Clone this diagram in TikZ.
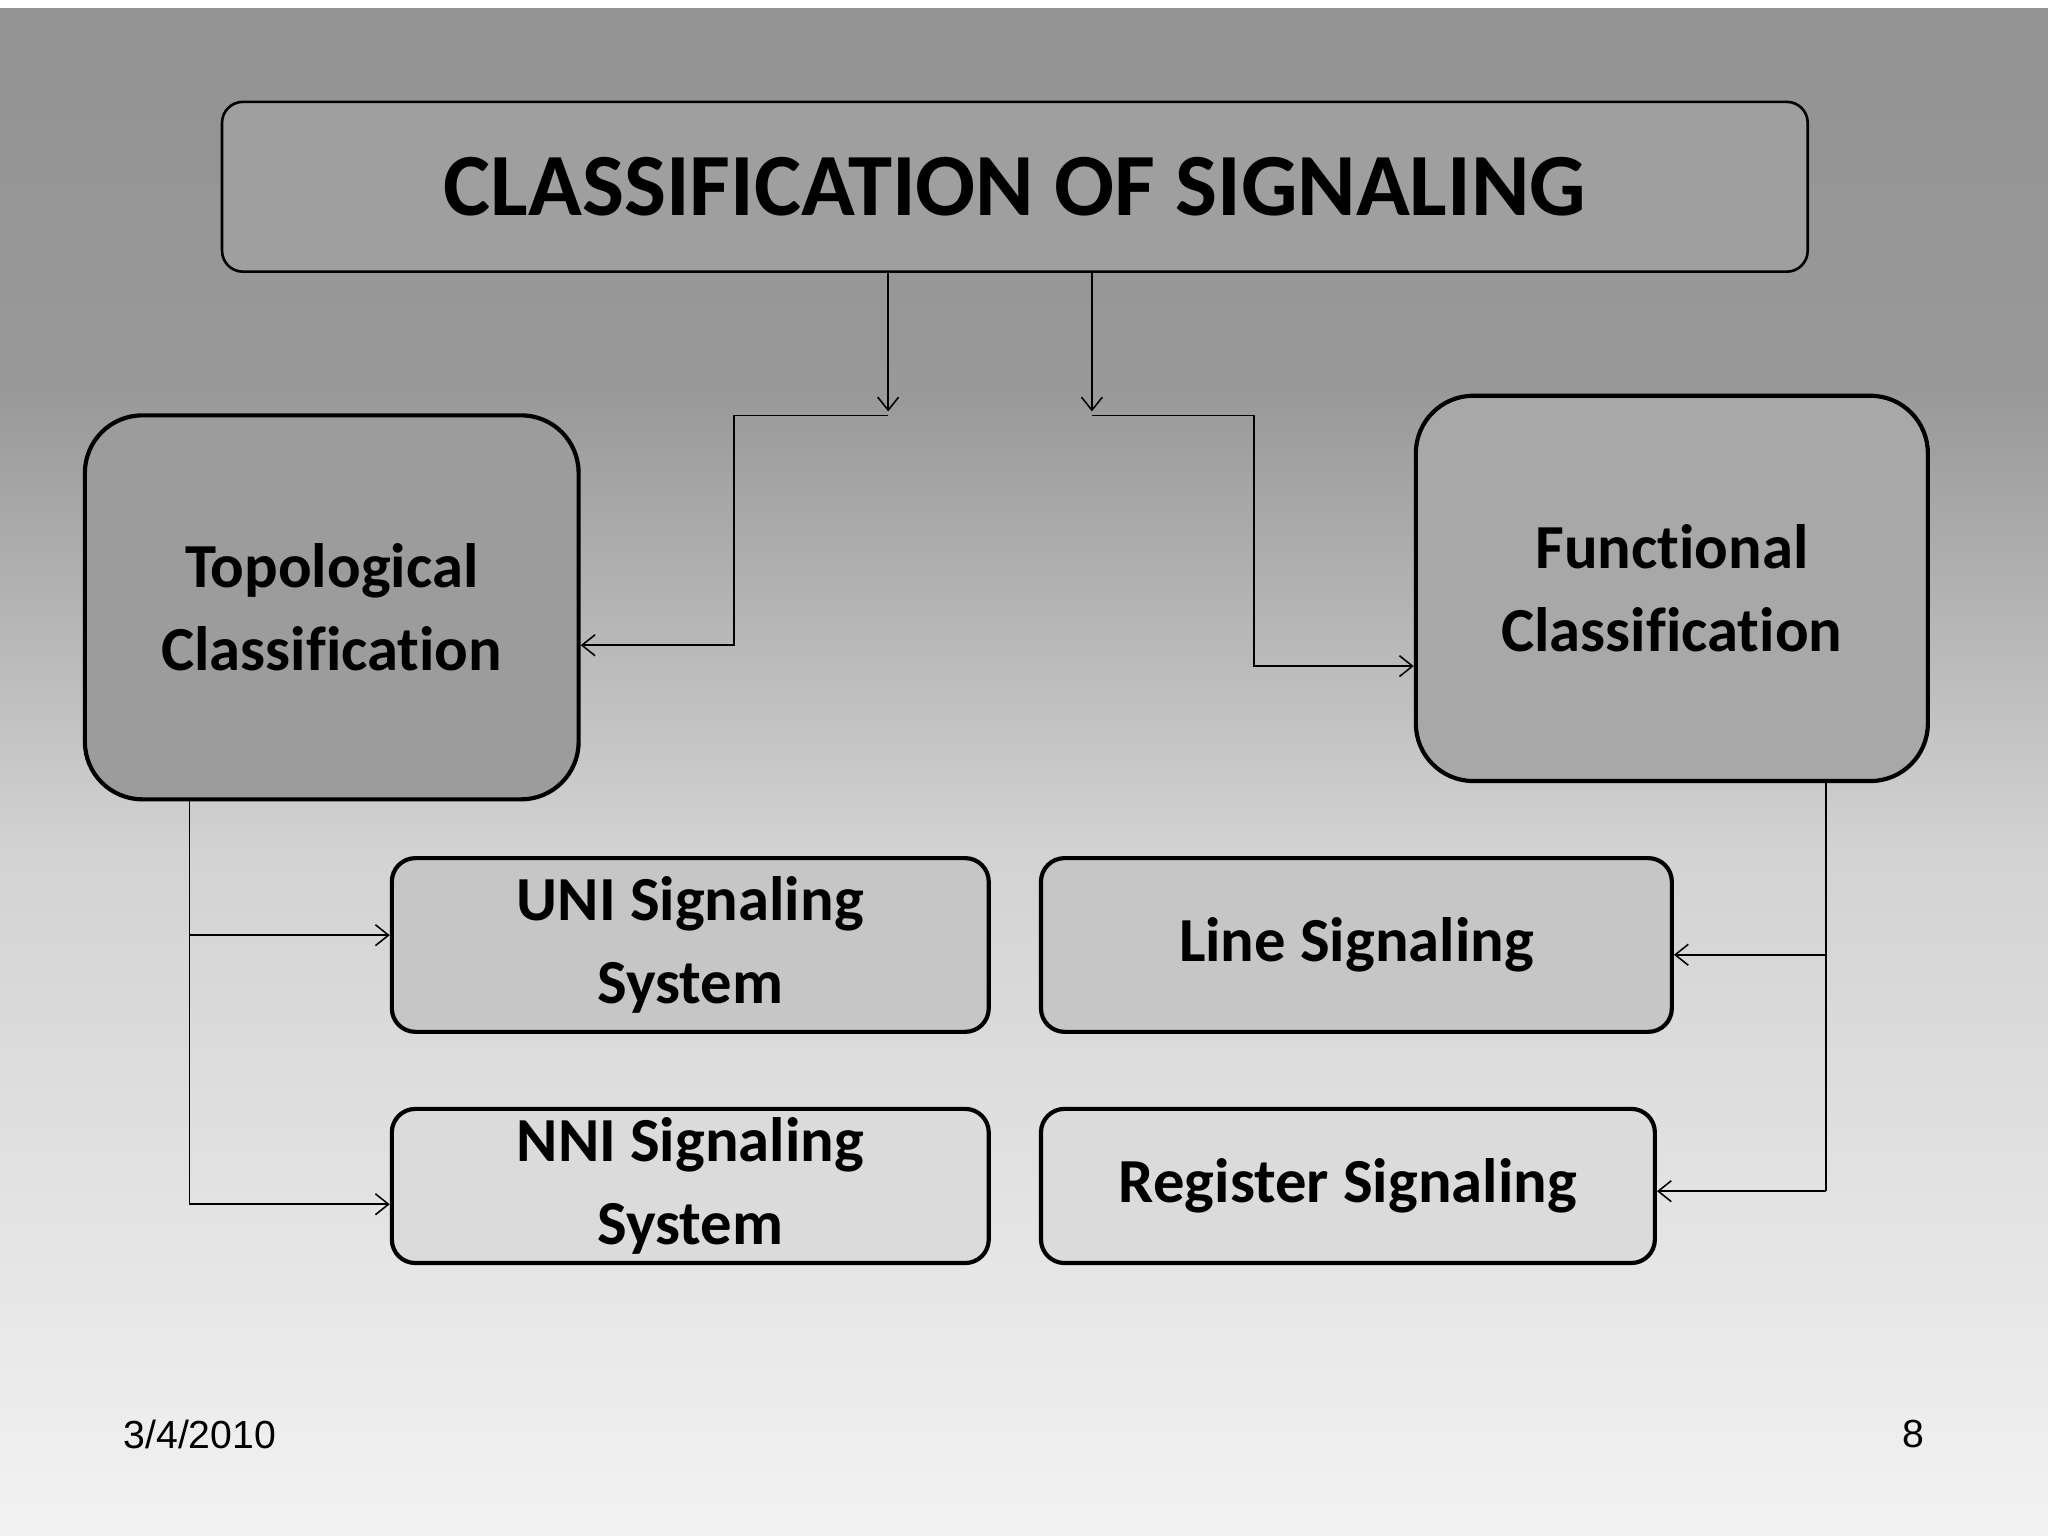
\documentclass[tikz,border=0pt]{standalone}
\usepackage{fontspec}
\setmainfont[Ligatures=NoCommon]{Carlito}
\newfontfamily\arialf{Liberation Sans}
\usetikzlibrary{arrows.meta}
\begin{document}
\begin{tikzpicture}[x=0.5pt,y=-0.5pt,
  box/.style={draw=black,line width=1.6pt,fill=gray!55,rounded corners=9pt,font=\bfseries\fontsize{24}{30}\selectfont,align=center,inner sep=0},
  bigbox/.style={box,rounded corners=22pt},
  conn/.style={draw=black,line width=0.6pt},
  arr/.style={conn,->,>={Straight Barb[length=5pt,width=8pt]}}]
\shade[top color=gray!90!white,middle color=gray!80!white,bottom color=gray!8] (0,0) rectangle (1568,1176);
\shade[top color=gray!85!white,bottom color=gray!80!white] (0,6) rectangle (1568,300);
\shade[top color=gray!80!white,bottom color=gray!35!white] (0,300) rectangle (1568,650);
\shade[top color=gray!35!white,bottom color=gray!10] (0,650) rectangle (1568,1176);
\fill[white] (0,0) rectangle (1568,6);
\node[box,fill=gray!75,line width=1pt,rounded corners=8pt,minimum width=607pt,minimum height=65pt,font=\bfseries\fontsize{34}{40}\selectfont] (t) at (777,143) {CLASSIFICATION OF SIGNALING};
\node[bigbox,fill=gray!78,minimum width=189pt,minimum height=147pt] (topo) at (254,465) {Topological\\[2pt]Classification};
\node[bigbox,fill=gray!68,minimum width=196pt,minimum height=147.5pt] (func) at (1280,450.5) {Functional\\[2pt]Classification};
\node[box,fill=gray!45,minimum width=228.5pt,minimum height=66.5pt] (uni) at (528.5,723.5) {UNI Signaling\\[2pt]System};
\node[box,fill=gray!28,minimum width=228.5pt,minimum height=59pt] (nni) at (528.5,908) {NNI Signaling\\[2pt]System};
\node[box,fill=gray!45,minimum width=241.5pt,minimum height=66.5pt] (line) at (1038.5,723.5) {Line Signaling};
\node[box,fill=gray!28,minimum width=235pt,minimum height=59pt] (reg) at (1032,908) {Register Signaling};
\coordinate (a1) at (680,318); \coordinate (a2) at (836,318);
\draw[arr] (t.south -| a1) -- (680,315);
\draw[arr] (t.south -| a2) -- (836,315);
\draw[arr] (a1) -- (562,318) -- (562,494) -- (topo.east |- 0,494);
\draw[arr] (a2) -- (960,318) -- (960,510) -- (func.west |- 0,510);
\coordinate (l1) at (145,922);
\draw[conn] (topo.south -| l1) -- (l1);
\draw[arr] (145,716) -- (uni.west |- 0,716);
\draw[arr] (l1) -- (nni.west |- l1);
\coordinate (r1) at (1398,912);
\draw[conn] (func.south -| r1) -- (r1);
\draw[arr] (1398,731) -- (line.east |- 0,731);
\draw[arr] (r1) -- (reg.east |- r1);
\node[font=\arialf\fontsize{15}{18}\selectfont] (d) at (153,1098) {3/4/2010};
\node[font=\arialf\fontsize{15}{18}\selectfont] (p) at (1465,1098) {8};
\end{tikzpicture}
\end{document}
